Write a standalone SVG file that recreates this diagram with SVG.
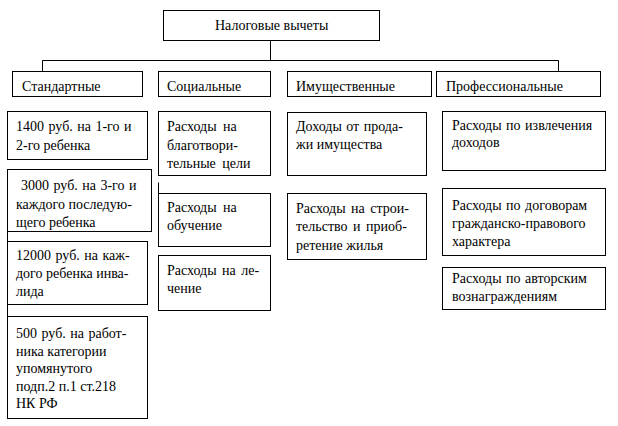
<svg xmlns="http://www.w3.org/2000/svg" width="618" height="426" viewBox="0 0 618 426">
<style>
.b{fill:#fff;stroke:#000;stroke-width:1}
.c{fill:none;stroke:#000;stroke-width:1}
</style>
<rect width="618" height="426" fill="#fff"/>
<g id="connectors">
<path class="c" d="M270.5 40.5V60.5M42.5 60.5H558.5M42.5 60.5V71.5M558.5 60.5V71.5M7.5 231.5V241.5M7.5 304.5V316.5M158.5 182.5V193.5"/>
</g>
<g id="root"><rect class="b" x="163.5" y="10.5" width="216" height="30"/><text style="font-family:'Liberation Serif';font-size:14px" x="215" y="30">Налоговые вычеты</text></g>
<g id="standard"><rect class="b" x="12.5" y="71.5" width="130" height="25"/><text style="font-family:'Liberation Serif';font-size:14px" x="22" y="91">Стандартные</text></g>
<g id="social"><rect class="b" x="158.5" y="71.5" width="112" height="25"/><text style="font-family:'Liberation Serif';font-size:14px" x="167" y="91">Социальные</text></g>
<g id="property"><rect class="b" x="287.5" y="71.5" width="144" height="25"/><text style="font-family:'Liberation Serif';font-size:14px" x="296" y="91">Имущественные</text></g>
<g id="professional"><rect class="b" x="436.5" y="71.5" width="164" height="25"/><text style="font-family:'Liberation Serif';font-size:14px" x="446" y="91">Профессиональные</text></g>
<g id="s1"><rect class="b" x="7.5" y="111.5" width="140" height="48"/><text style="font-family:'Liberation Serif';font-size:14px" x="16" y="131" word-spacing="1">1400 руб. на 1-го и</text><text style="font-family:'Liberation Serif';font-size:14px" x="16" y="150">2-го ребенка</text></g>
<g id="s2"><rect class="b" x="7.5" y="169.5" width="144" height="62"/><text style="font-family:'Liberation Serif';font-size:14px" x="21" y="190" word-spacing="1">3000 руб. на 3-го и</text><text style="font-family:'Liberation Serif';font-size:14px" x="16" y="209">каждого последую-</text><text style="font-family:'Liberation Serif';font-size:14px" x="16" y="227">щего ребенка</text></g>
<g id="s3"><rect class="b" x="7.5" y="241.5" width="140" height="63"/><text style="font-family:'Liberation Serif';font-size:14px" x="16" y="260" word-spacing="1">12000 руб. на каж-</text><text style="font-family:'Liberation Serif';font-size:14px" x="16" y="278">дого ребенка инва-</text><text style="font-family:'Liberation Serif';font-size:14px" x="16" y="296">лида</text></g>
<g id="s4"><rect class="b" x="7.5" y="316.5" width="140" height="102"/><text style="font-family:'Liberation Serif';font-size:14px" x="16" y="338" word-spacing="1">500 руб. на работ-</text><text style="font-family:'Liberation Serif';font-size:14px" x="16" y="355.5">ника категории</text><text style="font-family:'Liberation Serif';font-size:14px" x="16" y="373">упомянутого</text><text style="font-family:'Liberation Serif';font-size:14px" x="16" y="390.5">подп.2 п.1 ст.218</text><text style="font-family:'Liberation Serif';font-size:14px" x="16" y="408">НК РФ</text></g>
<g id="c1"><rect class="b" x="158.5" y="111.5" width="112" height="64"/><text style="font-family:'Liberation Serif';font-size:14px" x="167" y="131" word-spacing="3">Расходы на</text><text style="font-family:'Liberation Serif';font-size:14px" x="167" y="149.5">благотвори-</text><text style="font-family:'Liberation Serif';font-size:14px" x="167" y="168" word-spacing="3">тельные цели</text></g>
<g id="c2"><rect class="b" x="158.5" y="193.5" width="112" height="53"/><text style="font-family:'Liberation Serif';font-size:14px" x="167" y="212" word-spacing="3">Расходы на</text><text style="font-family:'Liberation Serif';font-size:14px" x="167" y="230">обучение</text></g>
<g id="c3"><rect class="b" x="158.5" y="255.5" width="112" height="55"/><text style="font-family:'Liberation Serif';font-size:14px" x="167" y="275" word-spacing="2">Расходы на ле-</text><text style="font-family:'Liberation Serif';font-size:14px" x="167" y="293">чение</text></g>
<g id="p1"><rect class="b" x="287.5" y="112.5" width="139" height="63"/><text style="font-family:'Liberation Serif';font-size:14px" x="296" y="131" word-spacing="1">Доходы от прода-</text><text style="font-family:'Liberation Serif';font-size:14px" x="296" y="149">жи имущества</text></g>
<g id="p2"><rect class="b" x="287.5" y="193.5" width="139" height="66"/><text style="font-family:'Liberation Serif';font-size:14px" x="296" y="213" word-spacing="2">Расходы на строи-</text><text style="font-family:'Liberation Serif';font-size:14px" x="296" y="231" word-spacing="2">тельство и приоб-</text><text style="font-family:'Liberation Serif';font-size:14px" x="296" y="250">ретение жилья</text></g>
<g id="f1"><rect class="b" x="442.5" y="111.5" width="163" height="59"/><text style="font-family:'Liberation Serif';font-size:14px" x="452" y="130" word-spacing="1">Расходы по извлечения</text><text style="font-family:'Liberation Serif';font-size:14px" x="452" y="147">доходов</text></g>
<g id="f2"><rect class="b" x="442.5" y="188.5" width="163" height="67"/><text style="font-family:'Liberation Serif';font-size:14px" x="452" y="210" word-spacing="1">Расходы по договорам</text><text style="font-family:'Liberation Serif';font-size:14px" x="452" y="228">гражданско-правового</text><text style="font-family:'Liberation Serif';font-size:14px" x="452" y="246">характера</text></g>
<g id="f3"><rect class="b" x="442.5" y="267.5" width="163" height="42"/><text style="font-family:'Liberation Serif';font-size:14px" x="452" y="283" word-spacing="1">Расходы по авторским</text><text style="font-family:'Liberation Serif';font-size:14px" x="452" y="301">вознаграждениям</text></g>
</svg>
